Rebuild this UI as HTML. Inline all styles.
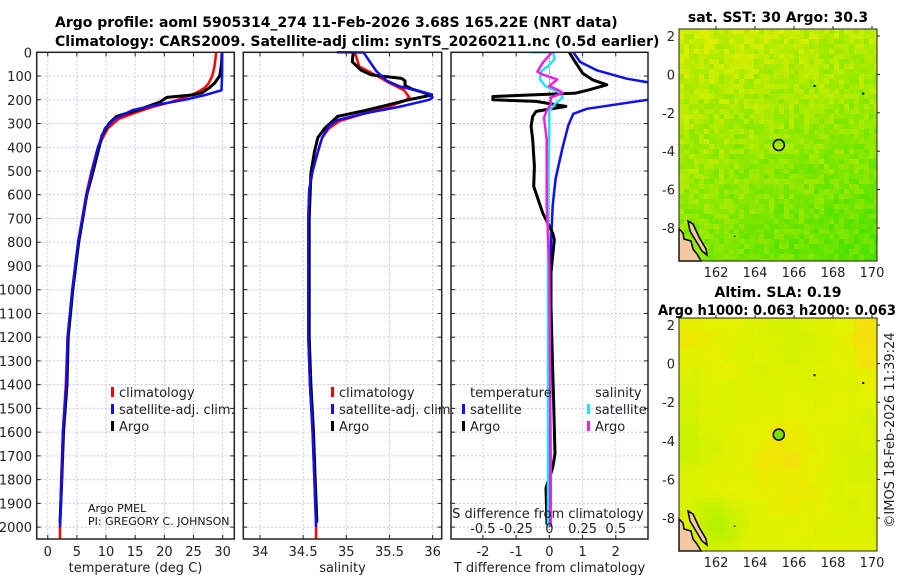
<!DOCTYPE html>
<html><head><meta charset="utf-8">
<style>
body{margin:0;background:#fff;}
svg{display:block;font-family:"DejaVu Sans","Liberation Sans",sans-serif;}
.t{font-size:13px;fill:#222;}
.b{font-weight:bold;font-size:14px;fill:#000;}
</style></head>
<body>
<svg id="fig" width="900" height="580" viewBox="0 0 900 580">
<rect width="900" height="580" fill="#fff"/>
<text class="b" x="55" y="27">Argo profile: aoml 5905314_274 11-Feb-2026 3.68S 165.22E (NRT data)</text>
<text class="b" x="55" y="46">Climatology: CARS2009. Satellite-adj clim: synTS_20260211.nc (0.5d earlier)</text>
<g id="p1"></g>
<g id="p2"></g>
<g id="p3"></g>
<g id="m1"></g>
<g id="m2"></g>
<text class="b" x="778" y="22" text-anchor="middle">sat. SST: 30 Argo: 30.3</text>
<text class="b" x="778" y="297" text-anchor="middle">Altim. SLA: 0.19</text>
<text class="b" x="658" y="315" textLength="238" lengthAdjust="spacingAndGlyphs">Argo h1000: 0.063 h2000: 0.063</text>
<text class="t" transform="translate(894,430) rotate(-90)" text-anchor="middle">©IMOS 18-Feb-2026 11:39:24</text>
</svg>
<script>
// ---------- data ----------
const depthTicks=[0,100,200,300,400,500,600,700,800,900,1000,1100,1200,1300,1400,1500,1600,1700,1800,1900,2000];
const tempTicks=[0,5,10,15,20,25,30];
const salTicks=[34,34.5,35,35.5,36];
const salTickLabels=["34","34.5","35","35.5","36"];
const tdTicks=[-2,-1,0,1,2];
const sdTicks=[-0.5,-0.25,0,0.25,0.5];
const sdTickLabels=["-0.5","-0.25","0","0.25","0.5"];

const climP=[0,60,100,130,150,170,190,210,230,250,280,320,400,500,600,800,1000,1200,1400,1600,1800,2000,2050];
const climT=[28.9,28.6,28.2,27.6,26.9,25.5,23.5,21.0,18.0,15.5,12.2,10.3,8.6,7.5,6.6,5.2,4.2,3.4,3.1,2.6,2.3,2.1,2.1];
const satP=[0,100,160,180,200,220,243,280,320,400,500,600,800,1000,1200,1400,1600,1800,2000];
const satT=[29.9,29.9,29.8,27.0,23.5,19.0,14.6,11.5,9.8,8.6,7.6,6.7,5.2,4.2,3.4,3.2,2.6,2.4,2.1];
const argoP=[0,50,100,130,150,170,180,190,210,240,270,300,350,400,500,600,800,1000,1200,1400,1600,1800,1980];
const argoT=[29.9,29.8,29.5,28.6,27.7,26.5,24.8,20.4,19.2,15.8,11.8,10.5,9.3,8.8,7.8,6.7,5.3,4.3,3.5,3.3,2.7,2.4,2.1];

const climSP=[0,60,100,125,160,190,205,235,262,290,320,360,420,500,580,700,1000,1200,1400,1600,1800,2000,2050];
const climS=[35.1,35.15,35.36,35.48,35.67,35.73,35.67,35.45,35.17,34.92,34.8,34.72,34.67,34.61,34.57,34.56,34.56,34.56,34.58,34.61,34.63,34.65,34.65];
const satSP=[0,1,60,80,120,143,175,190,200,230,257,285,310,360,420,500,580,700,1000,1200,1400,1600,1800,2000];
const satS=[34.89,35.2,35.31,35.35,35.47,35.61,35.96,36.0,35.96,35.61,35.22,34.9,34.8,34.72,34.67,34.61,34.57,34.56,34.56,34.56,34.58,34.61,34.63,34.65];
const argoSP=[0,40,75,95,110,120,140,155,180,200,245,270,320,360,420,510,700,1000,1200,1400,1600,1800,1980];
const argoS=[35.08,35.07,35.17,35.29,35.64,35.68,35.68,35.76,35.99,35.72,35.22,34.9,34.75,34.67,34.63,34.59,34.57,34.57,34.57,34.59,34.62,34.64,34.66];

const dTsatP=[0,41,76,111,132,160,195,238,259,308,406,533,645,800,1200,1600,2000];
const dTsat=[0.72,0.93,1.43,2.33,3.2,3.8,3.2,1.13,0.72,0.57,0.39,0.19,0.1,0.05,0.0,0.0,-0.02];
const dTargoP=[0,32,88,116,137,158,172,186,200,207,228,249,270,312,368,480,565,677,761,789,929,1070,1340,1480,1690,1750,1835,1990];
const dTargo=[0.6,0.74,1.0,1.3,1.73,1.2,0.8,-1.7,-1.7,-0.4,0.5,-0.4,-0.5,-0.55,-0.5,-0.45,-0.47,-0.2,0.1,0.15,0.05,0.05,0.1,0.13,0.17,0.1,-0.1,-0.07];
const dSsatP=[0,0.5,2,30,58,79,114,142,170,191,219,247,339,578,1000,1500,2000];
const dSsat=[-0.145,0.03,0.03,0.04,-0.01,-0.06,-0.07,-0.03,0.08,0.1,0.04,0,0,-0.01,-0.01,-0.01,-0.01];
const dSargoP=[0,44,82,94,114,142,163,172,191,219,247,275,366,507,647,900,1300,1700,2000];
const dSargo=[0.02,-0.05,-0.09,-0.05,0.06,0,0.08,0.1,0.01,0.01,-0.02,-0.04,-0.02,-0.02,-0.02,0.0,0.005,0.01,0.01];

const lonTicks=[162,164,166,168,170];
const latTicks=[2,0,-2,-4,-6,-8];
const argoLon=165.22, argoLat=-3.68;

// ---------- helpers ----------
const NS="http://www.w3.org/2000/svg";
function mk(parent,tag,attrs){const e=document.createElementNS(NS,tag);for(const k in attrs)e.setAttribute(k,attrs[k]);parent.appendChild(e);return e;}
const Y0=52.3, YS=0.2374, BOT=539;
function yP(p){return Y0+p*YS;}

function panel(g,x0,x1,xmin,xmax,ticks,labels,xlabel,name){
  const xs=v=>x0+(v-xmin)/(xmax-xmin)*(x1-x0);
  const grid=mk(g,'g',{});
  
  
  depthTicks.forEach(p=>{mk(grid,'line',{x1:x0,x2:x1,y1:yP(p),y2:yP(p),stroke:'#c4c8ee','stroke-dasharray':'2,2','stroke-width':1});});
  ticks.forEach(v=>{mk(grid,'line',{x1:xs(v),x2:xs(v),y1:Y0,y2:BOT,stroke:'#c4c8ee','stroke-dasharray':'2,2','stroke-width':1});});
  if(labels){ticks.forEach((v,i)=>{const t=mk(g,'text',{x:xs(v),y:556,'text-anchor':'middle',class:'t'});t.textContent=labels[i];
    
    
    mk(g,'line',{x1:xs(v),x2:xs(v),y1:BOT,y2:BOT-4,stroke:'#222'});mk(g,'line',{x1:xs(v),x2:xs(v),y1:Y0,y2:Y0+4,stroke:'#222'});});}
  depthTicks.forEach(p=>{mk(g,'line',{x1:x0,x2:x0+4,y1:yP(p),y2:yP(p),stroke:'#222'});mk(g,'line',{x1:x1,x2:x1-4,y1:yP(p),y2:yP(p),stroke:'#222'});});
  if(xlabel){const t=mk(g,'text',{x:(x0+x1)/2,y:572,'text-anchor':'middle',class:'t'});t.textContent=xlabel;
    
    }
  return xs;
}
function frame(g,x0,x1,name){const r=mk(g,'rect',{x:x0,y:Y0,width:x1-x0,height:BOT-Y0,fill:'none',stroke:'#222','stroke-width':1.5});
  
  }
function line(g,xs,P,V,color,w,name,clip){
  const d=P.map((p,i)=>(i?'L':'M')+xs(V[i]).toFixed(1)+','+yP(p).toFixed(1)).join('');
  const e=mk(g,'path',{d:d,fill:'none',stroke:color,'stroke-width':w,'stroke-linejoin':'round'});
  if(clip)e.setAttribute('clip-path',clip);
  
  
}
function legend(g,x,y,items,name){
  items.forEach((it,i)=>{const yy=y+i*17;
    mk(g,'rect',{x:x,y:yy-10,width:3,height:10,fill:it[1]});
    const t=mk(g,'text',{x:x+8,y:yy,class:'t'});t.textContent=it[0];
    
    });
}

const fig=document.getElementById('fig');
const defs=mk(fig,'defs',{});
const cp=mk(defs,'clipPath',{id:'c3'});mk(cp,'rect',{x:451,y:Y0,width:197,height:BOT-Y0});

// Panel 1
const g1=document.getElementById('p1');
const xs1=panel(g1,36.7,234.3,-1.9,32,tempTicks,tempTicks.map(String),'temperature (deg C)','temperature-panel');
depthTicks.forEach(p=>{const t=mk(g1,'text',{x:32,y:yP(p)+5,'text-anchor':'end',class:'t'});t.textContent=p;
  
  });
line(g1,xs1,climP,climT,'#f00',2.5,'temp-climatology-line');
line(g1,xs1,argoP,argoT,'#000',3,'temp-argo-line');
line(g1,xs1,satP,satT,'#1010ee',2.5,'temp-satellite-line');
frame(g1,36.7,234.3,'temperature-panel');
legend(g1,111,397,[['climatology','#f00'],['satellite-adj. clim.','#1010ee'],['Argo','#000']],'temp-legend');
const pm=mk(g1,'text',{x:88,y:512,style:'font-size:11px',fill:'#111'});pm.textContent='Argo PMEL';


const pi=mk(g1,'text',{x:88,y:525,style:'font-size:11px',fill:'#111'});pi.textContent='PI: GREGORY C. JOHNSON';



// Panel 2
const g2=document.getElementById('p2');
const xs2=panel(g2,243.3,441.7,33.807,36.105,salTicks,salTickLabels,'salinity','salinity-panel');
line(g2,xs2,climSP,climS,'#f00',2.5,'sal-climatology-line');
line(g2,xs2,argoSP,argoS,'#000',3,'sal-argo-line');
line(g2,xs2,satSP,satS,'#1010ee',2.5,'sal-satellite-line');
frame(g2,243.3,441.7,'salinity-panel');
legend(g2,331,397,[['climatology','#f00'],['satellite-adj. clim.','#1010ee'],['Argo','#000']],'sal-legend');

// Panel 3
const g3=document.getElementById('p3');
const xs3=panel(g3,451,648,-2.96,2.97,tdTicks,tdTicks.map(String),'T difference from climatology','difference-panel');
const xs3s=v=>xs3(v*4);
mk(g3,'line',{x1:xs3(0),x2:xs3(0),y1:Y0,y2:BOT,stroke:'#363','stroke-dasharray':'1,2','stroke-width':1});
line(g3,xs3,dTsatP,dTsat,'#1010ee',2.5,'tdiff-satellite-line','url(#c3)');
line(g3,xs3,dTargoP,dTargo,'#000',3,'tdiff-argo-line','url(#c3)');
line(g3,xs3s,dSsatP,dSsat,'#22e0f0',2.5,'sdiff-satellite-line','url(#c3)');
line(g3,xs3s,dSargoP,dSargo,'#f020e0',2.5,'sdiff-argo-line','url(#c3)');
frame(g3,451,648,'difference-panel');
sdTicks.forEach((v,i)=>{const t=mk(g3,'text',{x:xs3s(v),y:533,'text-anchor':'middle',class:'t'});t.textContent=sdTickLabels[i];
  
  });
const st=mk(g3,'text',{x:548,y:518,'text-anchor':'middle',class:'t'});st.textContent='S difference from climatology';


const lt1=mk(g3,'text',{x:470,y:397,class:'t'});lt1.textContent='temperature';


const lt2=mk(g3,'text',{x:595,y:397,class:'t'});lt2.textContent='salinity';


legend(g3,462,414,[['satellite','#1010ee'],['Argo','#000']],'tdiff-legend');
legend(g3,587,414,[['satellite','#22e0f0'],['Argo','#f020e0']],'sdiff-legend');

// ---------- maps ----------
function hash(i,j,s){let h=(i*374761393+j*668265263+s*982451653)|0;h=(h^(h>>>13))*1274126177|0;return ((h^(h>>>16))>>>0)/4294967295;}
function map(g,top,bot,kind){
  const x0=679,x1=877;
  const lx=v=>716+(v-162)*19.5;
  const ly=v=>top+7+(2-v)*((kind?193:192)/10);
  const cw=5;
  const cols=Math.ceil((x1-x0)/cw), rows=Math.ceil((bot-top)/cw);
  const cells=mk(g,'g',{});
  
  
  for(let i=0;i<cols;i++)for(let j=0;j<rows;j++){
    const fx=i/cols, fy=j/rows; let c;
    if(!kind){
      let t=0.72-0.3*fy-0.3*fx*fy+0.12*(1-fx)*(1-fy)+(hash(i,j,1)-0.5)*0.35;
      t=Math.max(0,Math.min(1,t));
      const r=Math.round(60+t*170), gg=Math.round(225+t*15);
      c=`rgb(${r},${gg},0)`;
    }else{
      const bx=Math.floor(i/3),by=Math.floor(j/3);
      let t=0.7+0.1*Math.sin(fx*7+1)*Math.cos(fy*5)+(hash(bx,by,2)-0.5)*0.1;
      const dx=(i*cw+x0)-lx(162.1), dy=(j*cw+top)-ly(-8.3); const dd=Math.sqrt(dx*dx+dy*dy);
      if(dd<35)t-=0.4*(1-dd/35);
      const dx2=(i*cw+x0)-lx(162.2), dy2=(j*cw+top)-ly(-6.0); const d2=Math.sqrt(dx2*dx2+dy2*dy2);
      if(d2<30)t+=0.15*(1-d2/30);
      const dx3=(i*cw+x0)-lx(165.3), dy3=(j*cw+top)-ly(-4.5); const d3=Math.sqrt(dx3*dx3+dy3*dy3);
      if(d3<40)t+=0.08*(1-d3/40);
      if(fx>0.85&&fy<0.2)t+=0.12;
      if(fx<0.08&&fy>0.2&&fy<0.6)t-=0.1;
      t=Math.max(0,Math.min(1,t));
      const r=Math.round(150+t*105), gg=Math.round(242-Math.max(0,t-0.75)*110);
      c=`rgb(${Math.min(255,r)},${gg},${Math.round(Math.max(0,t-0.8)*100)})`;
    }
    mk(cells,'rect',{x:x0+i*cw,y:top+j*cw,width:Math.min(cw,x1-x0-i*cw),height:Math.min(cw,bot-top-j*cw),fill:c});
  }
  const land=mk(g,'path',{d:`M${x0},${bot-32} L${x0+4},${bot-28} L${x0+5},${bot-22} L${x0+12},${bot-20} L${x0+14},${bot-12} L${x0+18},${bot-7} L${x0+22},${bot} L${x0},${bot} Z M${x0+9},${bot-40} L${x0+14},${bot-37} L${x0+20},${bot-24} L${x0+27},${bot-12} L${x0+28},${bot-6} L${x0+23},${bot-10} L${x0+17},${bot-20} L${x0+11},${bot-30} Z`,fill:'#f5c8a0',stroke:'#000','stroke-width':1.5});
  
  
  mk(g,'rect',{x:lx(167),y:ly(-0.55),width:2,height:2,fill:'#000'});
  mk(g,'rect',{x:lx(169.5),y:ly(-0.95),width:2,height:2,fill:'#000'});
  mk(g,'rect',{x:lx(162.9),y:ly(-8.4),width:2,height:1,fill:'#000'});
  const m=mk(g,'circle',{cx:lx(argoLon),cy:ly(argoLat),r:5.5,fill:kind?'#7be000':'none',stroke:'#000','stroke-width':1.5});
  
  
  const fr=mk(g,'rect',{x:x0,y:top,width:x1-x0,height:bot-top,fill:'none',stroke:'#222','stroke-width':1});
  
  
  lonTicks.forEach(v=>{mk(g,'line',{x1:lx(v),x2:lx(v),y1:top,y2:top-3,stroke:'#222'});
    const t=mk(g,'text',{x:lx(v),y:bot+16,'text-anchor':'middle',class:'t'});t.textContent=v;
    
    });
  latTicks.forEach(v=>{mk(g,'line',{x1:x1,x2:x1+3,y1:ly(v),y2:ly(v),stroke:'#222'});
    const t=mk(g,'text',{x:675,y:ly(v)+5,'text-anchor':'end',class:'t'});t.textContent=v;
    
    });
}
map(document.getElementById('m1'),29,261,0);
map(document.getElementById('m2'),318,551,1);
</script>
</body></html>
